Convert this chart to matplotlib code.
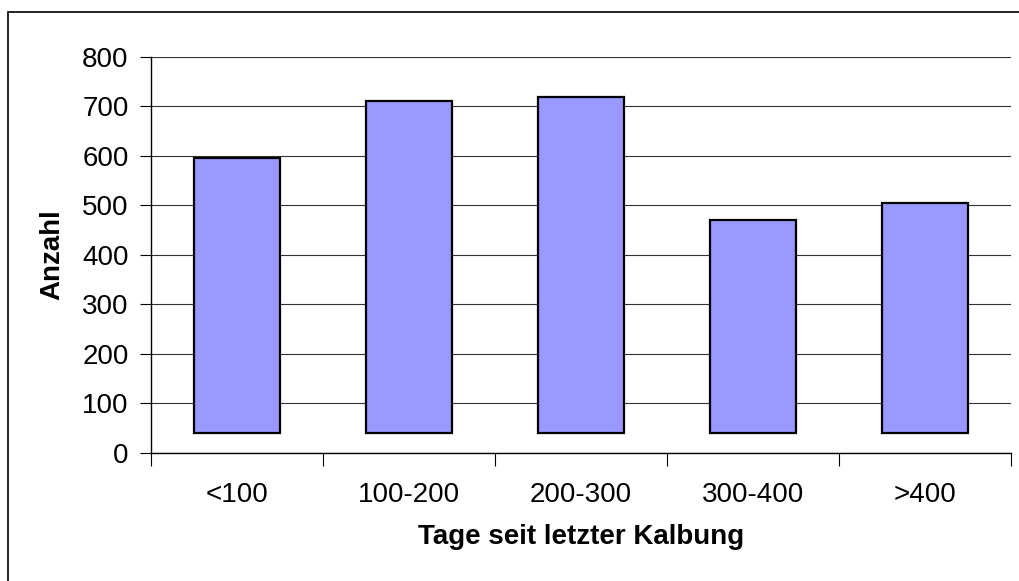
import matplotlib
matplotlib.use("Agg")
import matplotlib.pyplot as plt
import matplotlib.patches as mpatches
import numpy as np

# Daten
categories = ["<100", "100-200", "200-300", "300-400", ">400"]
counts = [595, 710, 718, 470, 505]
bar_base = 40          # Balken beginnen nicht bei 0 (wie im Original)
y_ticks = [0, 100, 200, 300, 400, 500, 600, 700, 800]

plt.rcParams["font.family"] = ["Liberation Sans", "DejaVu Sans"]

fig = plt.figure(figsize=(10.19, 5.81), dpi=100)
ax = fig.add_axes([0.148, 0.221, 0.844, 0.681])

x = np.arange(len(categories))
heights = np.array(counts) - bar_base
ax.bar(x, heights, width=0.5, bottom=bar_base, color="#9999FF",
       edgecolor="black", linewidth=1.6, zorder=3)

ax.set_xlim(-0.5, len(categories) - 0.5)
ax.set_ylim(0, 800)
ax.set_yticks(y_ticks)
ax.yaxis.grid(True, color="#333333", linewidth=0.8, zorder=0)
ax.set_axisbelow(True)

# Kategorie-Labels ohne Striche, Striche an den Grenzen
ax.set_xticks(x)
ax.set_xticklabels(categories)
ax.set_xticks(np.arange(-0.5, len(categories)), minor=True)
ax.tick_params(axis="x", which="major", length=0, pad=21, labelsize=20)
ax.tick_params(axis="x", which="minor", length=9, width=0.8, direction="out")
ax.tick_params(axis="y", length=8, width=0.8, pad=8, labelsize=20)

for s in ["top", "right"]:
    ax.spines[s].set_visible(False)
for s in ["left", "bottom"]:
    ax.spines[s].set_linewidth(1.0)

ax.set_xlabel("Tage seit letzter Kalbung", fontsize=20, fontweight="bold", labelpad=12)
ax.set_ylabel("Anzahl", fontsize=20, fontweight="bold", labelpad=12)

# Rahmen um das Diagramm (rechts/unten abgeschnitten)
frame = mpatches.Rectangle((8 / 1019, -0.05), 1.1, 1 - 12 / 581 + 0.05,
                           transform=fig.transFigure, fill=False,
                           edgecolor="black", linewidth=1.2)
fig.patches.append(frame)

fig.savefig("out.png", dpi=100)
